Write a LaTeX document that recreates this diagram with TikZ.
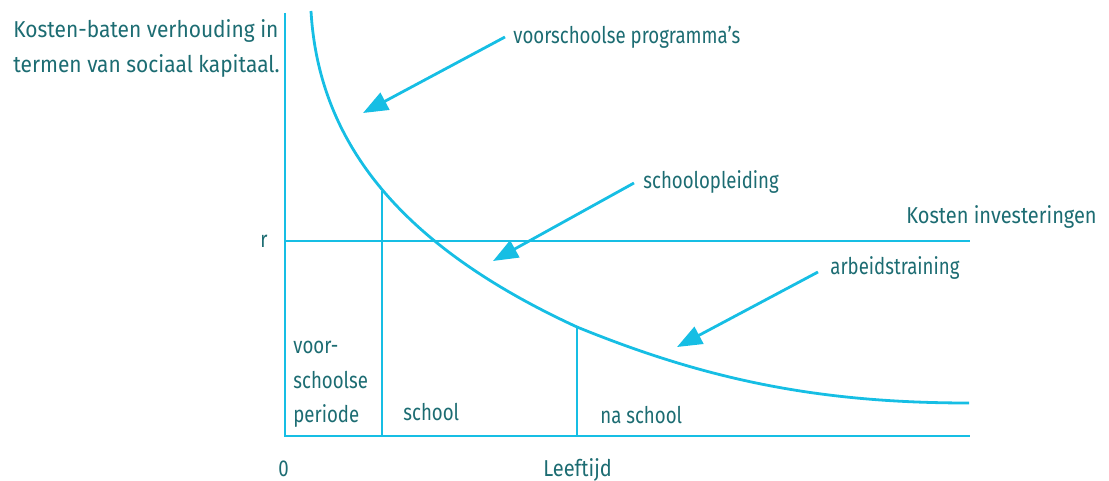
\documentclass[tikz,border=0pt]{standalone}
\usepackage{fontspec}
\setmainfont[FakeStretch=0.81]{Fira Sans}
\newfontfamily\fwide[FakeStretch=0.91]{Fira Sans}
\newfontfamily\fmid[FakeStretch=0.87]{Fira Sans}
\usetikzlibrary{arrows.meta}
\definecolor{lineblue}{RGB}{22,190,228}
\definecolor{textteal}{RGB}{28,108,114}
\begin{document}
\begin{tikzpicture}[x=0.5pt,y=-0.5pt,
  ln/.style={draw=lineblue,line width=1.4pt},
  lbl/.style={text=textteal,font=\fontsize{11.5pt}{14pt}\selectfont,inner sep=0pt,anchor=base west},
  pointer/.style={draw=lineblue,line width=1.4pt,-{Triangle[length=12.5pt,width=9.5pt]}}]
\useasboundingbox (0,0) rectangle (1109,481);
% axes and lines
\coordinate (ytop) at (285,13);
\coordinate (orig) at (285,436);
\coordinate (xend) at (970,436);
\coordinate (rl) at (285,241);
\coordinate (rr) at (970,241);
\coordinate (v1t) at (382,191);
\coordinate (v1b) at (382,436);
\coordinate (v2t) at (577,327);
\coordinate (v2b) at (577,436);
\draw[ln] (ytop) -- (orig) -- (xend);
\draw[ln] (rl) -- (rr);
\draw[ln] (v1t) -- (v1b);
\draw[ln] (v2t) -- (v2b);
% curve
\coordinate (c0) at (311,11);
\coordinate (c1) at (577,327);
\coordinate (c2) at (969,403);
\draw[ln] (c0) .. controls (319,150) and (410,250) .. (c1)
               .. controls (707,380) and (819,403) .. (c2);
% labels
\node[lbl,font=\fontsize{11.5pt}{14pt}\fwide] (ylab1) at (13,38) {Kosten-baten verhouding in};
\node[lbl,font=\fontsize{11.5pt}{14pt}\fwide] (ylab2) at (13,73) {termen van sociaal kapitaal.};
\node[lbl] (vp) at (513,44) {voorschoolse programma’s};
\node[lbl] (so) at (643,189) {schoolopleiding};
\node[lbl,font=\fontsize{11.5pt}{14pt}\fmid] (ki) at (906,223) {Kosten investeringen};
\node[lbl] (r) at (260,248) {r};
\node[lbl] (at) at (830,274) {arbeidstraining};
\node[lbl] (p1) at (293,353) {voor-};
\node[lbl] (p2) at (293,388) {schoolse};
\node[lbl] (p3) at (293,422) {periode};
\node[lbl] (sc) at (403,420) {school};
\node[lbl] (ns) at (600,423) {na school};
\node[lbl] (zero) at (278,476) {0};
\node[lbl,font=\fontsize{11.5pt}{14pt}\fmid] (lt) at (543,476) {Leeftijd};
% pointers
\coordinate (a1s) at (505,37);
\coordinate (a1e) at (363,113);
\coordinate (a2s) at (634,183);
\coordinate (a2e) at (493,261);
\coordinate (a3s) at (818,272);
\coordinate (a3e) at (677,347);
\draw[pointer] (a1s) -- (a1e);
\draw[pointer] (a2s) -- (a2e);
\draw[pointer] (a3s) -- (a3e);
\end{tikzpicture}
\end{document}
